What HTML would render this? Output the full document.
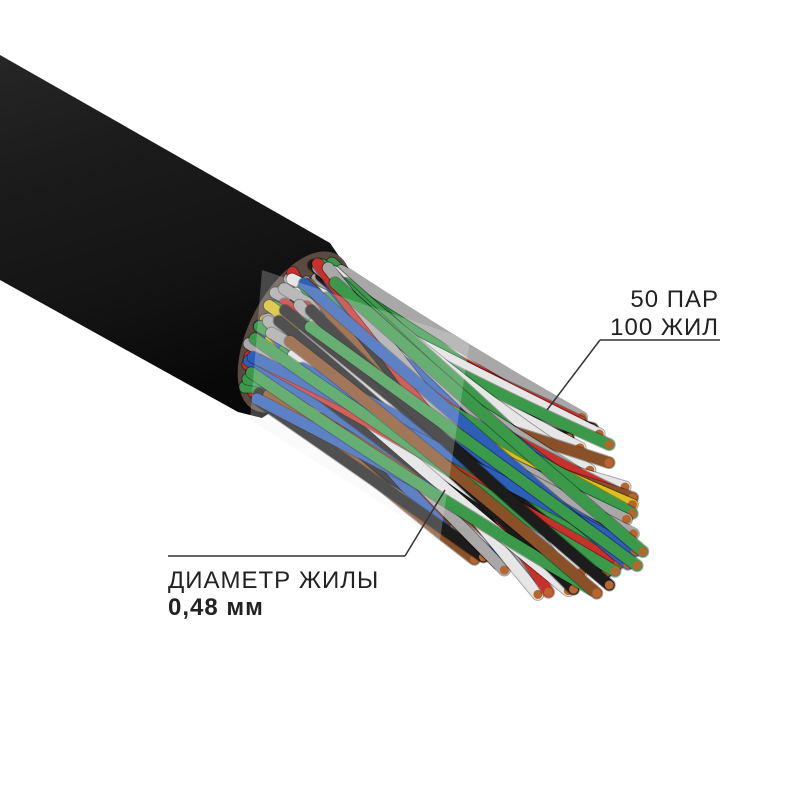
<!DOCTYPE html>
<html><head><meta charset="utf-8">
<style>
html,body{margin:0;padding:0;background:#fff;width:800px;height:800px;overflow:hidden}
svg{position:absolute;left:0;top:0}
.t{font-family:"Liberation Sans","DejaVu Sans",sans-serif;fill:#222;letter-spacing:1px}
</style></head><body>
<svg id="s" width="800" height="800" viewBox="0 0 800 800" xmlns="http://www.w3.org/2000/svg">
<defs>
<linearGradient id="jg" x1="0" y1="0" x2="0.3" y2="1">
<stop offset="0" stop-color="#262626"/><stop offset="0.3" stop-color="#1c1c1c"/><stop offset="0.7" stop-color="#141414"/><stop offset="1" stop-color="#080808"/>
</linearGradient>
</defs>
<polygon points="0,55 330,243 345,265 350,300 320,380 262,418 238,412 0,280" fill="url(#jg)"/>
<ellipse cx="295" cy="332" rx="45" ry="88" transform="rotate(28 295 332)" fill="#5a4a40"/>
<g id="w"></g>
<line x1="600" y1="340" x2="720" y2="340" stroke="#333" stroke-width="1.5"/>
<line x1="600" y1="340" x2="547" y2="410" stroke="#333" stroke-width="1.5"/>
<line x1="168" y1="556" x2="405" y2="556" stroke="#333" stroke-width="1.5"/>
<line x1="405" y1="556" x2="445" y2="490" stroke="#333" stroke-width="1.5"/>
<text class="t" x="719" y="307" font-size="24" text-anchor="end">50 ПАР</text>
<text class="t" x="719" y="335" font-size="24" text-anchor="end">100 ЖИЛ</text>
<text class="t" x="168" y="588" font-size="24">ДИАМЕТР ЖИЛЫ</text>
<text class="t" x="168" y="615" font-size="24" font-weight="bold">0,48 мм</text>
</svg>
<script>
var g=document.getElementById('w');var seed=11;function r(){seed=(seed*16807)%2147483647;return seed/2147483647;}
var cols=['#c8302c','#2d5fb8','#3a9a4a','#8a5128','#e6e6e6','#a8a8a8','#1c1c1c','#c8302c','#8a5128','#2d5fb8','#e6e6e6','#3a9a4a','#a8a8a8','#1c1c1c','#d8c020'];
var ns='http://www.w3.org/2000/svg';var items=[];
var ca=Math.cos(28*Math.PI/180),sa=Math.sin(28*Math.PI/180);
var cb=Math.cos(40*Math.PI/180),sb=Math.sin(40*Math.PI/180);
for(var i=0;i<180;i++){
 var a=r()*Math.PI*2,rr=Math.sqrt(r());
 var lx=Math.cos(a)*40*rr,ly=Math.sin(a)*82*rr;
 var sx=295+lx*ca-ly*sa, sy=332+lx*sa+ly*ca;
 var b=r()*Math.PI*2,r2=Math.sqrt(r());
 var u=Math.cos(b)*125*r2,v=Math.sin(b)*90*r2;
 var ex=535+u*cb-v*sb, ey=495+u*sb+v*cb;
 items.push([sx,sy,ex,ey,cols[Math.floor(r()*cols.length)],u]);
}
items.sort(function(p,q){return (p[2]+p[3]*1.3)-(q[2]+q[3]*1.3);});
items.forEach(function(it){
 var mx=(it[0]+it[2])/2+(r()-0.5)*25,my=(it[1]+it[3])/2+(r()-0.5)*25;
 var d='M'+it[0]+','+it[1]+' Q'+mx+','+my+' '+it[2]+','+it[3];
 var p=document.createElementNS(ns,'path');
 p.setAttribute('d',d);p.setAttribute('stroke','rgba(0,0,0,0.35)');p.setAttribute('stroke-width','13');p.setAttribute('fill','none');p.setAttribute('stroke-linecap','round');
 g.appendChild(p);
 p=document.createElementNS(ns,'path');
 p.setAttribute('d',d);p.setAttribute('stroke',it[4]);p.setAttribute('stroke-width','11');p.setAttribute('fill','none');p.setAttribute('stroke-linecap','round');
 g.appendChild(p);
 var c=document.createElementNS(ns,'circle');c.setAttribute('cx',it[2]);c.setAttribute('cy',it[3]);c.setAttribute('r','4.5');c.setAttribute('fill','#b8662e');
 g.appendChild(c);
});
var f=document.createElementNS(ns,'path');
f.setAttribute('d','M262,270 L470,340 L440,540 L250,420 Z');f.setAttribute('fill','rgba(235,235,235,0.25)');
g.appendChild(f);
</script>
</body></html>
